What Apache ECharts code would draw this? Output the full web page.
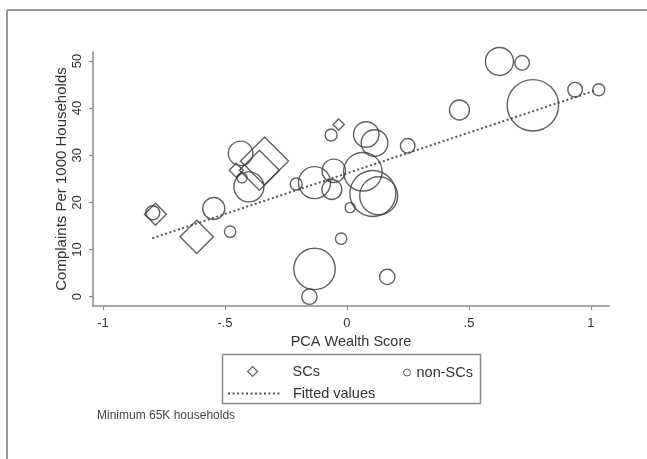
<!DOCTYPE html>
<html>
<head>
<meta charset="utf-8">
<script src="https://cdn.jsdelivr.net/npm/echarts@6/dist/echarts.min.js"></script>
<style>html,body{margin:0;padding:0;background:#fff}#c{width:647px;height:459px}</style>
</head>
<body>
<div id="c"></div>
<script>
// ---- data ----
// SCs (diamonds): PCA wealth score, complaints per 1000 households, households (thousands, marker weight)
const scX  = [-0.785, -0.616, -0.454, -0.338, -0.359, -0.034];
const scY  = [17.5, 12.7, 26.8, 28.8, 26.8, 36.5];
const scHH = [315, 725, 127, 1498, 1040, 84];

// non-SCs (circles)
const nonX  = [-0.796, -0.546, -0.479, -0.436, -0.430, -0.402, -0.208, -0.133, -0.054, -0.062,
               -0.065, 0.013, -0.024, -0.133, -0.154, 0.079, 0.113, 0.065, 0.106, 0.130,
               0.165, 0.249, 0.461, 0.625, 0.718, 0.762, 0.935, 1.032];
const nonY  = [17.8, 18.7, 13.8, 30.4, 25.2, 23.3, 23.9, 24.2, 26.7, 22.75,
               34.3, 18.9, 12.3, 5.9, 0.0, 34.4, 32.6, 26.5, 21.9, 21.4,
               4.2, 32.0, 39.6, 49.9, 49.6, 40.6, 43.9, 43.9];
const nonHH = [127, 315, 84, 393, 65, 585, 94, 666, 356, 260,
               94, 65, 84, 1114, 154, 419, 460, 968, 1375, 939,
               154, 139, 260, 510, 139, 1717, 139, 94];

// fitted values (end points of the fitted line)
const fitX = [-0.798, 1.021];
const fitY = [12.4, 43.8];

// axis ticks
const xTicks = [-1, -0.5, 0, 0.5, 1];
const xTickLabels = ['-1', '-.5', '0', '.5', '1'];
const yTicks = [0, 10, 20, 30, 40, 50];
const yTickLabels = ['0', '10', '20', '30', '40', '50'];

// ---- chart ----
const FONT = 'Liberation Sans, Arial, Helvetica, sans-serif';
const INK = '#3a3a3a';
const TXT = '#333';
const AX = '#8a8a8a';
const sizeOf = v => 1.24 * Math.sqrt(v[2]);

const zip3 = (a, b, c) => a.map((v, i) => [v, b[i], c[i]]);
const zip2 = (a, b) => a.map((v, i) => [v, b[i]]);

const chart = echarts.init(document.getElementById('c'), null, {renderer: 'canvas'});
chart.setOption({
  animation: false,
  backgroundColor: '#fff',
  textStyle: {fontFamily: FONT},
  grid: {left: 93, right: 38, top: 52, bottom: 153, containLabel: false},
  xAxis: {
    type: 'value', min: -1.041, max: 1.074,
    name: 'PCA Wealth Score', nameLocation: 'middle', nameGap: 28, nameMoveOverlap: false,
    nameTextStyle: {fontSize: 14.5, color: TXT, fontFamily: FONT},
    axisLine: {show: true, onZero: false, lineStyle: {color: AX, width: 1.5}},
    axisTick: {show: true, length: 4, lineStyle: {color: AX, width: 1.2}, customValues: xTicks},
    axisLabel: {fontSize: 13, color: TXT, margin: 11, customValues: xTicks,
      formatter: v => { const i = xTicks.findIndex(t => Math.abs(t - v) < 1e-9); return i >= 0 ? xTickLabels[i] : ''; }},
    splitLine: {show: false}
  },
  yAxis: {
    type: 'value', min: -1.97, max: 51.9,
    name: 'Complaints Per 1000 Households', nameLocation: 'middle', nameGap: 24, nameMoveOverlap: false,
    nameTextStyle: {fontSize: 15, color: TXT, fontFamily: FONT},
    axisLine: {show: true, onZero: false, lineStyle: {color: AX, width: 1.5}},
    axisTick: {show: true, length: 4, lineStyle: {color: AX, width: 1.2}, customValues: yTicks},
    axisLabel: {fontSize: 13, color: TXT, margin: 9, rotate: 90, customValues: yTicks,
      formatter: v => { const i = yTicks.findIndex(t => Math.abs(t - v) < 1e-9); return i >= 0 ? yTickLabels[i] : ''; }},
    splitLine: {show: false}
  },
  legend: [
    {data: ['SCs'], left: 247, top: 364, padding: 0, itemWidth: 10, itemHeight: 10,
     itemStyle: {borderWidth: 1.2},
     textStyle: {fontSize: 14.5, color: TXT, fontFamily: FONT, padding: [0, 0, 0, 30]}},
    {data: ['non-SCs'], left: 403, top: 365, padding: 0, itemWidth: 7, itemHeight: 7,
     itemStyle: {borderWidth: 1},
     textStyle: {fontSize: 14.5, color: TXT, fontFamily: FONT, padding: [0, 0, 0, 1]}},
    {data: ['Fitted values'], left: 227, top: 386, padding: 0, itemWidth: 54, itemHeight: 10,
     itemStyle: {opacity: 0},
     textStyle: {fontSize: 14.5, color: TXT, fontFamily: FONT, padding: [0, 0, 0, 6]}}
  ],
  graphic: [
    {type: 'line', shape: {x1: 7, y1: 10, x2: 647, y2: 10}, style: {stroke: '#9a9a9a', lineWidth: 2}, silent: true},
    {type: 'line', shape: {x1: 7, y1: 10, x2: 7, y2: 459}, style: {stroke: '#9a9a9a', lineWidth: 2}, silent: true},
    {type: 'rect', shape: {x: 222.5, y: 354.5, width: 258, height: 49}, style: {fill: 'none', stroke: '#8a8a8a', lineWidth: 1.5}, silent: true},
    {type: 'text', left: 97, top: 410, style: {text: 'Minimum 65K households', fontSize: 12, fill: '#444', fontFamily: FONT}, silent: true}
  ],
  series: [
    {name: 'SCs', type: 'scatter', symbol: 'diamond', symbolSize: sizeOf,
     data: zip3(scX, scY, scHH),
     itemStyle: {color: 'rgba(255,255,255,0)', borderColor: INK, borderWidth: 1.4}, z: 3},
    {name: 'non-SCs', type: 'scatter', symbol: 'circle', symbolSize: sizeOf,
     data: zip3(nonX, nonY, nonHH),
     itemStyle: {color: 'rgba(255,255,255,0)', borderColor: INK, borderWidth: 1.4}, z: 3},
    {name: 'Fitted values', type: 'line', symbol: 'none', data: zip2(fitX, fitY),
     lineStyle: {color: '#555', width: 2, type: [2, 2.5]}, z: 2}
  ]
});
</script>
</body>
</html>
